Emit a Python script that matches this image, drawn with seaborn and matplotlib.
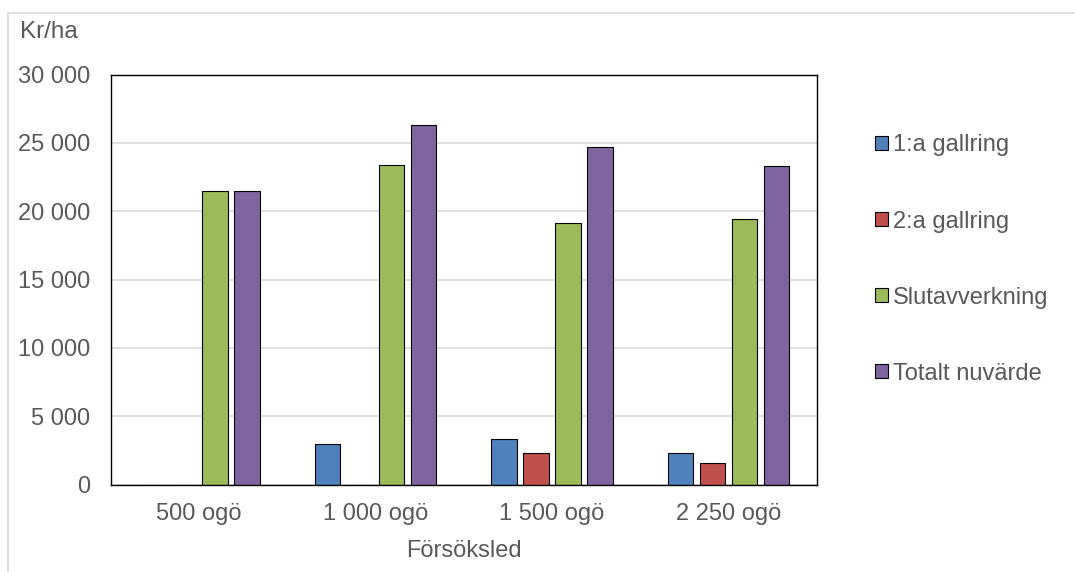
import pandas as pd
import matplotlib.pyplot as plt
import seaborn as sns
from matplotlib.ticker import FuncFormatter
from matplotlib.lines import Line2D

# Data (kr/ha)
treatments = ["500 ogö", "1 000 ogö", "1 500 ogö", "2 250 ogö"]
series = ["1:a gallring", "2:a gallring", "Slutavverkning", "Totalt nuvärde"]
first_thinning = [0, 3000, 3300, 2300]
second_thinning = [0, 0, 2300, 1600]
final_felling = [21500, 23400, 19100, 19400]
total_value = [21500, 26300, 24700, 23300]
yticks = [0, 5000, 10000, 15000, 20000, 25000, 30000]

colors = ["#4F81BD", "#C0504D", "#9BBB59", "#8064A2"]
text_color = "#595959"

df = pd.DataFrame({
    "Försöksled": treatments * 4,
    "serie": [s for s in series for _ in treatments],
    "value": first_thinning + second_thinning + final_felling + total_value,
})

sns.set_theme(style="white")
plt.rcParams["font.family"] = ["Liberation Sans", "DejaVu Sans"]

fig = plt.figure(figsize=(10.75, 5.72), dpi=100)
ax = fig.add_axes([110.7 / 1075, 1 - 484.5 / 572, 706 / 1075, 410 / 572])

sns.barplot(data=df, x="Försöksled", y="value", hue="serie", order=treatments,
            hue_order=series, palette=colors, width=0.725, gap=0.2,
            edgecolor="black", linewidth=0.8, saturation=1, ax=ax)

ax.set_ylim(0, 30000)
ax.set_yticks(yticks)
ax.yaxis.set_major_formatter(FuncFormatter(lambda v, p: f"{int(v):,}".replace(",", " ")))
ax.grid(axis="y", color="#d9d9d9", linewidth=1.2)
ax.set_axisbelow(True)
for s in ax.spines.values():
    s.set_visible(True)
    s.set_color("black")
    s.set_linewidth(1.0)

ax.tick_params(axis="both", length=0, labelsize=17, colors=text_color)
ax.tick_params(axis="y", pad=15)
ax.tick_params(axis="x", pad=13)
ax.set_ylabel("")
ax.set_xlabel("Försöksled", fontsize=17, color=text_color, labelpad=11)

fig.text(20 / 1075, 1 - 32 / 572, "Kr/ha", fontsize=17.5, color=text_color,
         ha="left", va="center")

leg = ax.legend(loc="upper left", bbox_to_anchor=(866 / 1075, 1 - 125 / 572),
                bbox_transform=fig.transFigure, frameon=False, fontsize=17,
                labelcolor=text_color, handlelength=0.55, handleheight=0.55,
                handletextpad=0.2, labelspacing=2.29, borderaxespad=0)

# light outer frame of the chart area
fig.add_artist(Line2D([8 / 1075, 1], [1 - 12.5 / 572, 1 - 12.5 / 572],
                      transform=fig.transFigure, color="#d9d9d9", linewidth=1.2))
fig.add_artist(Line2D([8 / 1075, 8 / 1075], [0, 1 - 12.5 / 572],
                      transform=fig.transFigure, color="#d9d9d9", linewidth=1.2))

fig.savefig("out.png", dpi=100)
